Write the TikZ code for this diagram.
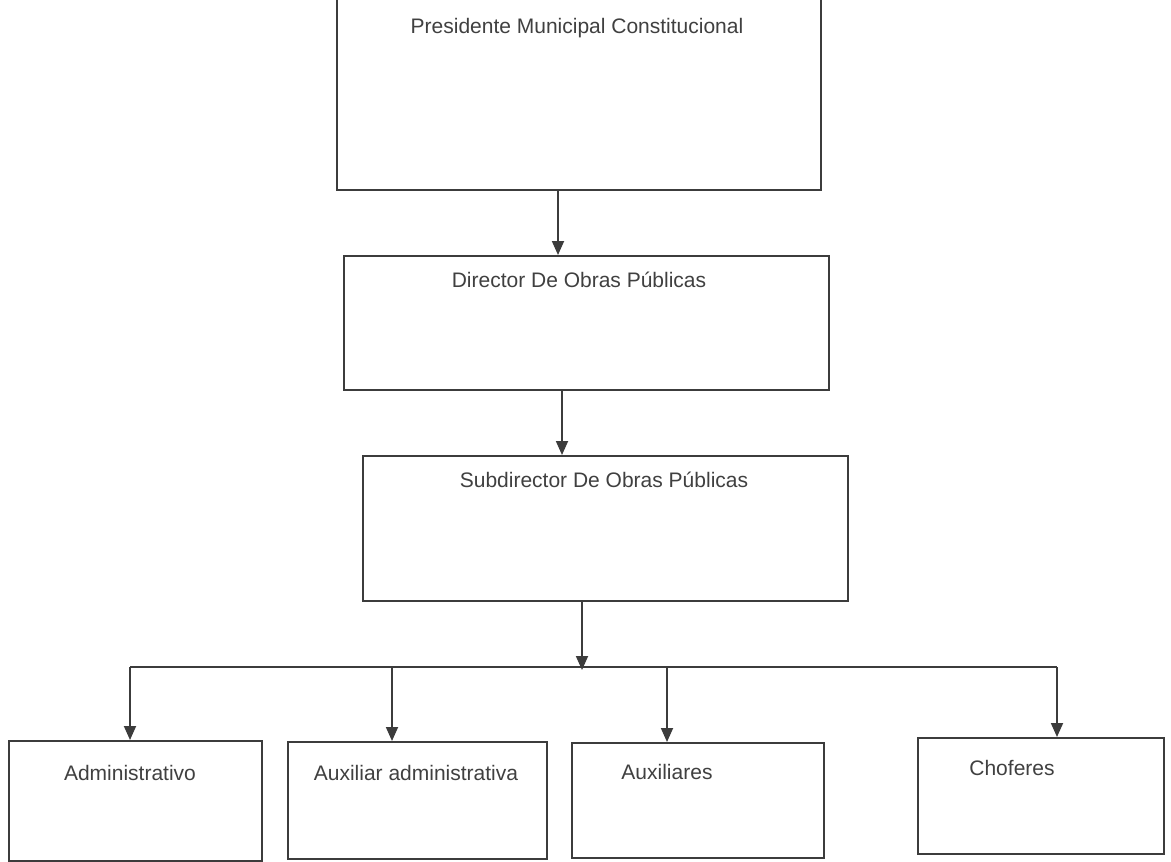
\documentclass[tikz,border=0pt]{standalone}
\usepackage{fontspec}
\setmainfont{Liberation Sans}
\usetikzlibrary{arrows.meta}
\definecolor{ink}{HTML}{3C3C3C}
\definecolor{txt}{HTML}{404040}
\begin{document}
\begin{tikzpicture}[x=1pt,y=-1pt,
  box/.style={draw=ink, line width=1.8pt, rectangle, anchor=north west, inner sep=0pt},
  ttl/.style={text=txt, font=\fontsize{21}{24}\selectfont, inner sep=0pt, anchor=center},
  arr/.style={draw=ink, line width=1.8pt, -{Triangle[width=12pt,length=14pt]}},
  bus/.style={draw=ink, line width=1.8pt}]
\useasboundingbox (0,0) rectangle (1171,862);
\fill[white] (0,0) rectangle (1171,862);

% boxes
\node[box, minimum width=484pt, minimum height=194pt] (pres) at (336,-5) {};
\node[box, minimum width=485pt, minimum height=134pt] (dir) at (343,255) {};
\node[box, minimum width=485pt, minimum height=145pt] (sub) at (362,455) {};
\node[box, minimum width=253pt, minimum height=120pt] (adm) at (8,740) {};
\node[box, minimum width=259pt, minimum height=117pt] (auxadm) at (287,741) {};
\node[box, minimum width=252pt, minimum height=115pt] (aux) at (571,742) {};
\node[box, minimum width=246pt, minimum height=116pt] (cho) at (917,737) {};

% titles
\node[ttl] (presT) at (577,28) {Presidente Municipal Constitucional};
\node[ttl] (dirT) at (579,280) {Director De Obras Públicas};
\node[ttl] (subT) at (604,480) {Subdirector De Obras Públicas};
\node[ttl] (admT) at (130,773) {Administrativo};
\node[ttl] (auxadmT) at (416,773) {Auxiliar administrativa};
\node[ttl] (auxT) at (667,772) {Auxiliares};
\node[ttl] (choT) at (1012,768) {Choferes};

% connector columns
\coordinate (c1) at (558,0);
\coordinate (c2) at (562,0);
\coordinate (c3) at (582,0);
\coordinate (busy) at (0,667);
\coordinate (b1) at (130,667);
\coordinate (b2) at (392,667);
\coordinate (b3) at (667,667);
\coordinate (b4) at (1057,667);

\draw[arr] (pres.south -| c1) -- (dir.north -| c1);
\draw[arr] (dir.south -| c2) -- (sub.north -| c2);
\draw[arr] (sub.south -| c3) -- ([yshift=-3pt]busy -| c3);
\draw[bus] (b1) -- (b4);
\draw[arr] (b1) -- (adm.north -| b1);
\draw[arr] (b2) -- (auxadm.north -| b2);
\draw[arr] (b3) -- (aux.north -| b3);
\draw[arr] (b4) -- (cho.north -| b4);
\end{tikzpicture}
\end{document}
